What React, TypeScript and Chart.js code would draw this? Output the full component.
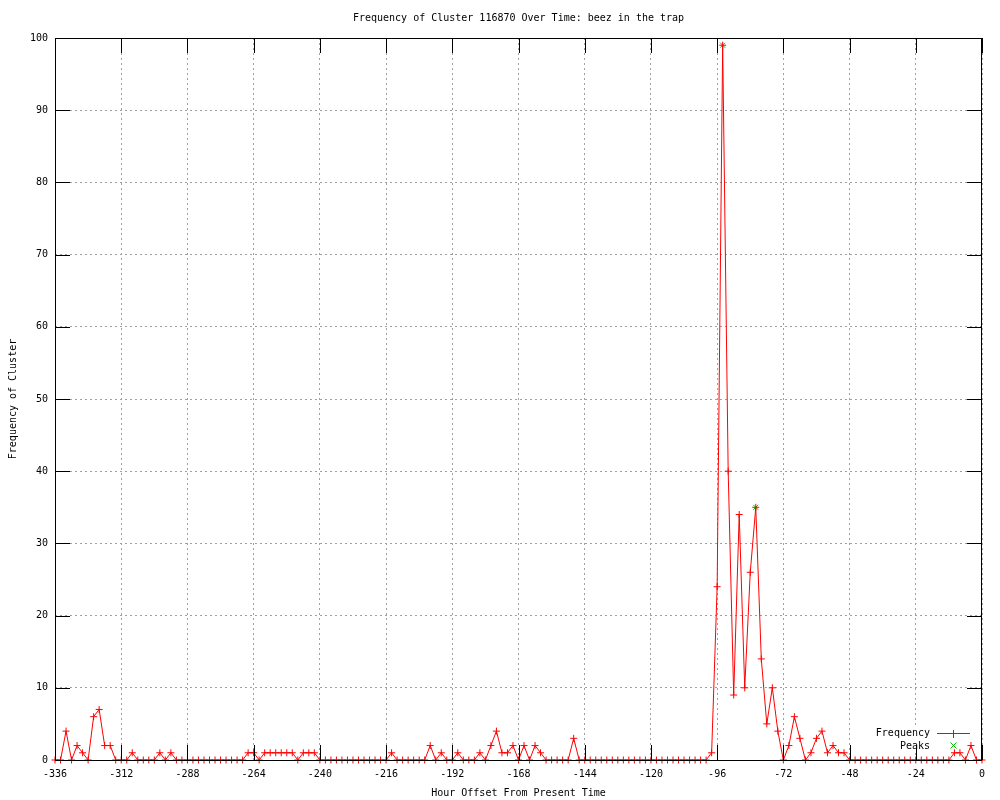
import React, { useEffect, useRef } from "react";
import { Chart, registerables } from "chart.js";

Chart.register(...registerables);

const TITLE = "Frequency of Cluster 116870 Over Time: beez in the trap";
const X_LABEL = "Hour Offset From Present Time";
const Y_LABEL = "Frequency of Cluster";
const LEGEND_FREQ = "Frequency";
const LEGEND_PEAKS = "Peaks";

const hours = [
  -336, -334, -332, -330, -328, -326, -324, -322, -320, -318, -316, -314,
  -312, -310, -308, -306, -304, -302, -300, -298, -296, -294, -292, -290,
  -288, -286, -284, -282, -280, -278, -276, -274, -272, -270, -268, -266,
  -264, -262, -260, -258, -256, -254, -252, -250, -248, -246, -244, -242,
  -240, -238, -236, -234, -232, -230, -228, -226, -224, -222, -220, -218,
  -216, -214, -212, -210, -208, -206, -204, -202, -200, -198, -196, -194,
  -192, -190, -188, -186, -184, -182, -180, -178, -176, -174, -172, -170,
  -168, -166, -164, -162, -160, -158, -156, -154, -152, -150, -148, -146,
  -144, -142, -140, -138, -136, -134, -132, -130, -128, -126, -124, -122,
  -120, -118, -116, -114, -112, -110, -108, -106, -104, -102, -100, -98,
  -96, -94, -92, -90, -88, -86, -84, -82, -80, -78, -76, -74,
  -72, -70, -68, -66, -64, -62, -60, -58, -56, -54, -52, -50,
  -48, -46, -44, -42, -40, -38, -36, -34, -32, -30, -28, -26,
  -24, -22, -20, -18, -16, -14, -12, -10, -8, -6, -4, -2,
  0,
];

const frequency = [
  0, 0, 4, 0, 2, 1, 0, 6, 7, 2, 2, 0,
  0, 0, 1, 0, 0, 0, 0, 1, 0, 1, 0, 0,
  0, 0, 0, 0, 0, 0, 0, 0, 0, 0, 0, 1,
  1, 0, 1, 1, 1, 1, 1, 1, 0, 1, 1, 1,
  0, 0, 0, 0, 0, 0, 0, 0, 0, 0, 0, 0,
  0, 1, 0, 0, 0, 0, 0, 0, 2, 0, 1, 0,
  0, 1, 0, 0, 0, 1, 0, 2, 4, 1, 1, 2,
  0, 2, 0, 2, 1, 0, 0, 0, 0, 0, 3, 0,
  0, 0, 0, 0, 0, 0, 0, 0, 0, 0, 0, 0,
  0, 0, 0, 0, 0, 0, 0, 0, 0, 0, 0, 1,
  24, 99, 40, 9, 34, 10, 26, 35, 14, 5, 10, 4,
  0, 2, 6, 3, 0, 1, 3, 4, 1, 2, 1, 1,
  0, 0, 0, 0, 0, 0, 0, 0, 0, 0, 0, 0,
  0, 0, 0, 0, 0, 0, 0, 1, 1, 0, 2, 0,
  0,
];

const peakHours = [-94, -82];
const peakValues = [99, 35];

const xTickStep = 24;
const yTickStep = 10;

const FONT = "'DejaVu Sans Mono', 'Liberation Mono', monospace";
const RED = "#ff0000";
const GREEN = "#00c000";

const gnuplotPlugin = {
  id: "gnuplotDecor",
  beforeDatasetsDraw(chart: any) {
    const ctx = chart.ctx;
    ctx.save();
    ctx.fillStyle = "#ffffff";
    ctx.fillRect(872, 725, 106, 28);
    ctx.restore();
  },
  afterDatasetsDraw(chart: any) {
    const ctx = chart.ctx;
    const { left, right, top, bottom } = chart.chartArea;
    const xs = chart.scales.x;
    const ys = chart.scales.y;
    ctx.save();
    ctx.setLineDash([]);
    ctx.globalAlpha = 1;
    ctx.strokeStyle = "#000000";
    ctx.lineWidth = 1;
    const tl = 15;
    ctx.beginPath();
    xs.ticks.forEach((t: any) => {
      const px = Math.round(xs.getPixelForValue(t.value)) + 0.5;
      ctx.moveTo(px, bottom);
      ctx.lineTo(px, bottom - tl);
      ctx.moveTo(px, top);
      ctx.lineTo(px, top + tl);
    });
    ys.ticks.forEach((t: any) => {
      const py = Math.round(ys.getPixelForValue(t.value)) + 0.5;
      ctx.moveTo(left, py);
      ctx.lineTo(left + tl, py);
      ctx.moveTo(right, py);
      ctx.lineTo(right - tl, py);
    });
    ctx.stroke();
    ctx.strokeRect(Math.round(left) + 0.5, Math.round(top) + 0.5, Math.round(right - left) - 1, Math.round(bottom - top));
    ctx.restore();

    // legend
    ctx.save();
    ctx.setLineDash([]);
    ctx.font = `10px ${FONT}`;
    ctx.fillStyle = "#000000";
    ctx.textAlign = "right";
    ctx.textBaseline = "middle";
    ctx.fillText(LEGEND_FREQ, 930, 733);
    ctx.fillText(LEGEND_PEAKS, 930, 746);
    ctx.fillStyle = RED;
    ctx.fillRect(937, 733, 33, 1);
    ctx.fillRect(953, 730, 1, 8);
    ctx.lineWidth = 1;
    ctx.strokeStyle = GREEN;
    ctx.beginPath();
    ctx.moveTo(950.5, 742.5);
    ctx.lineTo(956.5, 748.5);
    ctx.moveTo(956.5, 742.5);
    ctx.lineTo(950.5, 748.5);
    ctx.stroke();
    ctx.restore();

    // title
    ctx.save();
    ctx.font = `10px ${FONT}`;
    ctx.fillStyle = "#000000";
    ctx.textAlign = "center";
    ctx.textBaseline = "middle";
    ctx.fillText(TITLE, (left + right) / 2, 18);
    ctx.restore();
  },
};

export default function App() {
  const canvasRef = useRef<HTMLCanvasElement | null>(null);

  useEffect(() => {
    const canvas = canvasRef.current;
    if (!canvas) return;
    const freqData = hours.map((h, i) => ({ x: h, y: frequency[i] }));
    const peakData = peakHours.map((h, i) => ({ x: h, y: peakValues[i] }));
    const chart = new Chart(canvas, {
      type: "line",
      data: {
        datasets: [
          {
            label: LEGEND_FREQ,
            data: freqData,
            borderColor: RED,
            borderWidth: 1,
            backgroundColor: RED,
            pointStyle: "cross",
            pointRadius: 3.5,
            pointBorderColor: RED,
            pointBorderWidth: 1,
            tension: 0,
            fill: false,
          },
          {
            label: LEGEND_PEAKS,
            data: peakData,
            showLine: false,
            borderColor: GREEN,
            backgroundColor: GREEN,
            pointStyle: "crossRot",
            pointRadius: 3.5,
            pointBorderColor: GREEN,
            pointBorderWidth: 1,
          },
        ],
      },
      options: {
        responsive: false,
        animation: false,
        clip: false as any,
        layout: { padding: { top: 38, right: 18, left: 0, bottom: 0 } },
        plugins: {
          legend: { display: false },
          title: { display: false },
          tooltip: { enabled: false },
        },
        scales: {
          x: {
            type: "linear",
            min: -336,
            max: 0,
            ticks: {
              stepSize: xTickStep,
              color: "#000000",
              font: { family: FONT, size: 10 },
              padding: 8,
              maxRotation: 0,
              autoSkip: false,
            },
            grid: {
              color: "#a0a0a0",
              lineWidth: 1,
              drawTicks: false,
            },
            border: { display: false, dash: [2, 3] },
            title: {
              display: true,
              text: X_LABEL,
              color: "#000000",
              font: { family: FONT, size: 10 },
              padding: { top: 0, bottom: 1 },
            },
            afterFit: (s: any) => {
              s.height = 40;
            },
          },
          y: {
            min: 0,
            max: 100,
            ticks: {
              stepSize: yTickStep,
              color: "#000000",
              font: { family: FONT, size: 10 },
              padding: 7,
            },
            grid: {
              color: "#a0a0a0",
              lineWidth: 1,
              drawTicks: false,
            },
            border: { display: false, dash: [2, 3] },
            title: {
              display: true,
              text: Y_LABEL,
              color: "#000000",
              font: { family: FONT, size: 10 },
              padding: { top: 7, bottom: 0 },
            },
            afterFit: (s: any) => {
              s.width = 55;
            },
          },
        },
      },
      plugins: [gnuplotPlugin],
    });
    return () => chart.destroy();
  }, []);

  return (
    <div style={{ position: "absolute", left: 0, top: 0, width: 1000, height: 800, background: "#ffffff" }}>
      <canvas ref={canvasRef} width={1000} height={800} style={{ display: "block" }} />
    </div>
  );
}
